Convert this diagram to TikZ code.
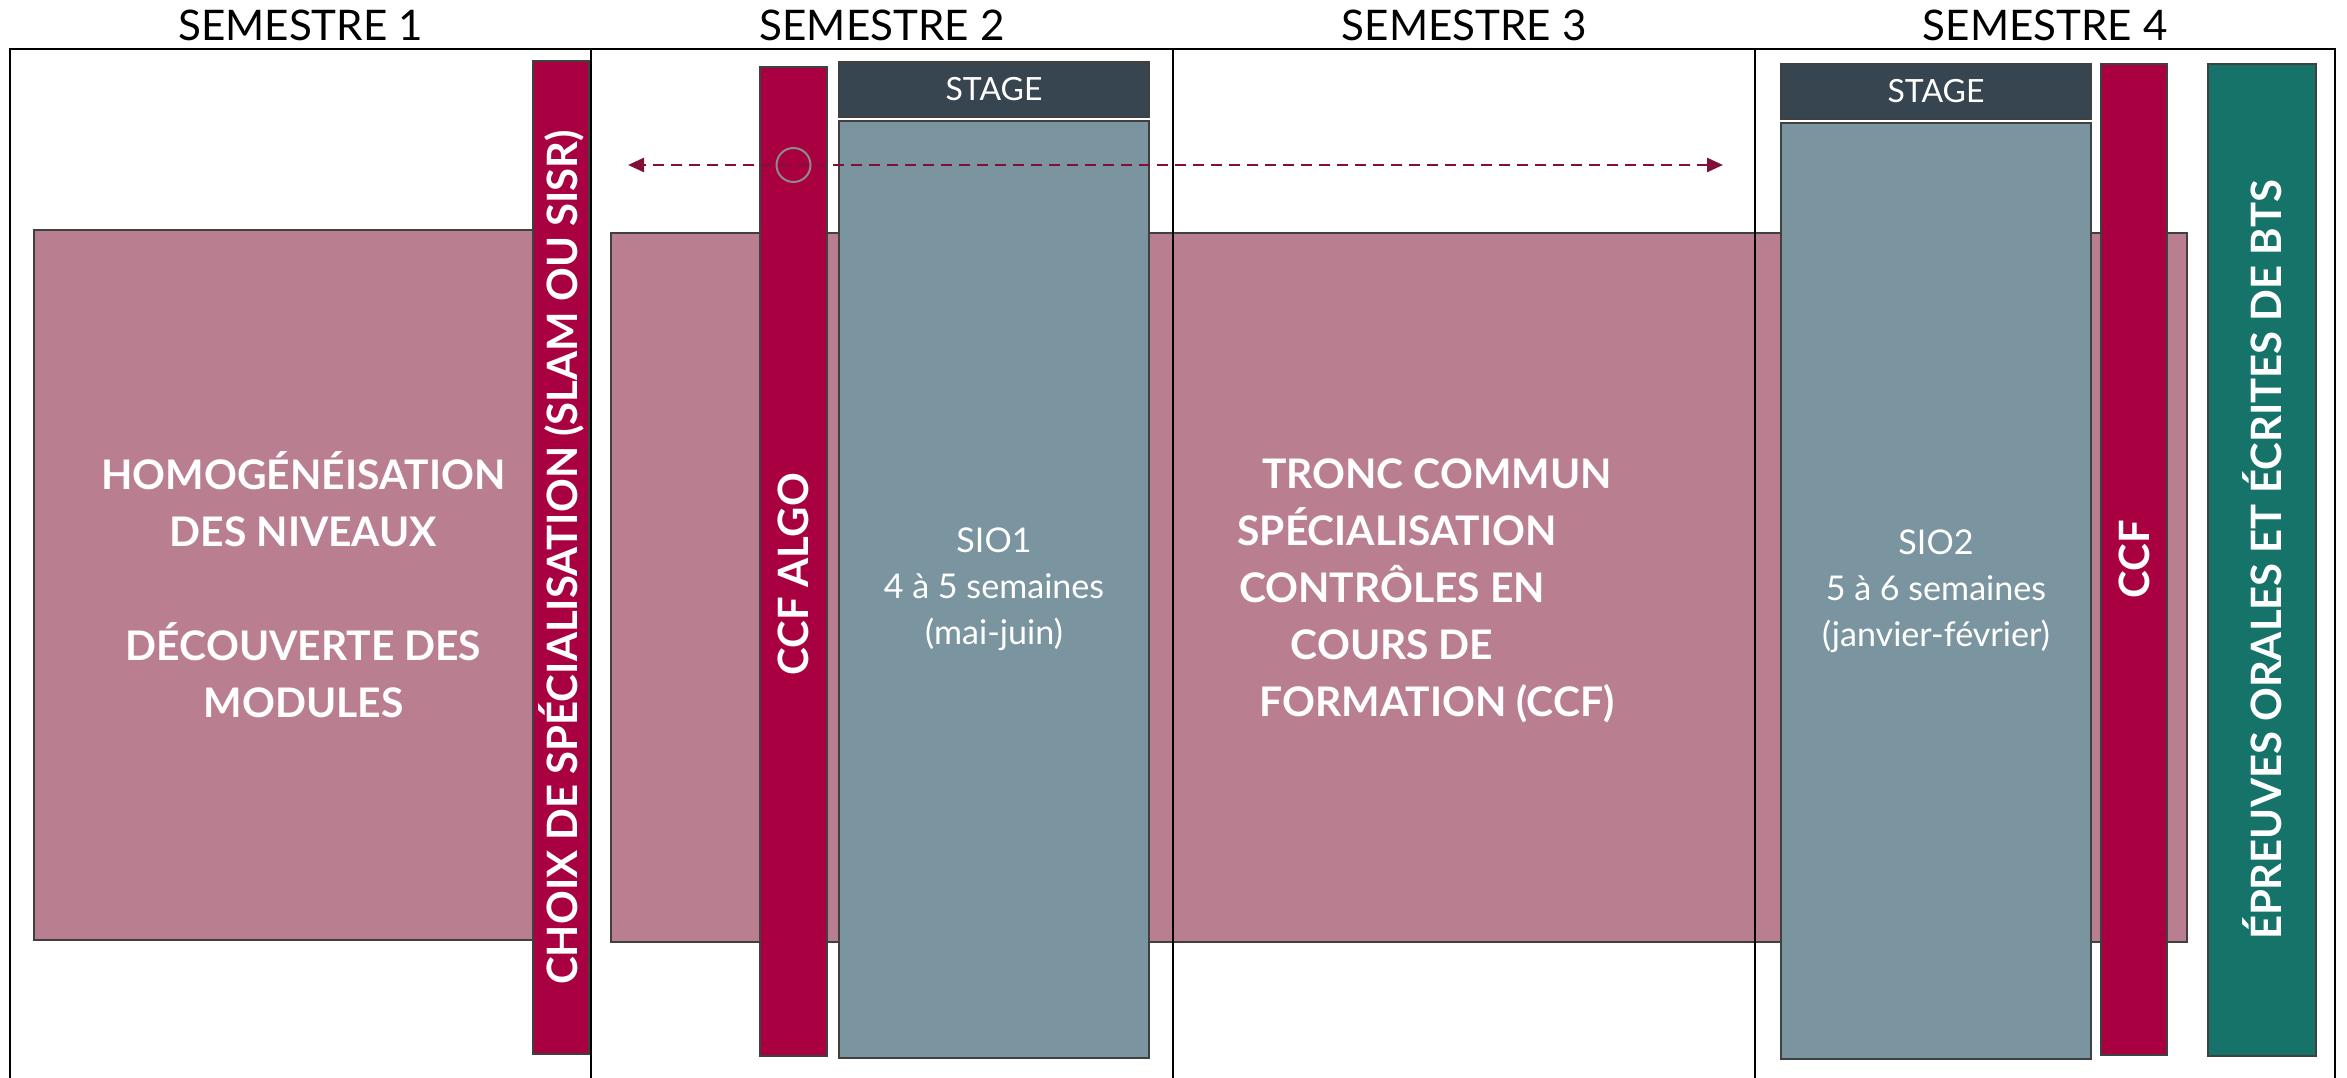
\documentclass[tikz,border=0pt]{standalone}
\usepackage{fontspec}
\setmainfont{Lato}
\usetikzlibrary{arrows.meta,positioning}
\definecolor{rosebox}{HTML}{BA7E91}
\definecolor{crimsonbar}{HTML}{A90042}
\definecolor{stagehead}{HTML}{36454F}
\definecolor{stagebody}{HTML}{7A95A0}
\definecolor{tealbar}{HTML}{15736A}
\definecolor{edgegray}{HTML}{404040}
\definecolor{arrowred}{HTML}{801038}

\begin{document}
\begin{tikzpicture}[x=1mm, y=-1mm,
    box/.style 2 args={draw=edgegray, line width=0.2mm, inner sep=0pt, minimum width=#1mm, minimum height=#2mm},
    pinkbox/.style={fill=rosebox},
    redbar/.style={fill=crimsonbar},
    headbox/.style={fill=stagehead, text=white, font=\fontsize{9.1}{11}\selectfont},
    bodybox/.style={fill=stagebody},
    tealbox/.style={fill=tealbar},
    semtitle/.style={anchor=base, font=\fontsize{12}{14}\selectfont},
    bigtext/.style={text=white, align=center, font=\bfseries\fontsize{11.6}{16.2}\selectfont},
    smalltext/.style={text=white, align=center, font=\fontsize{9.7}{13.1}\selectfont},
    vertext/.style={text=white, rotate=90, font=\bfseries\fontsize{11.9}{14}\selectfont},
    frameline/.style={line width=0.2mm},
    dashline/.style={draw=arrowred, line width=0.25mm, dash pattern=on 1.1mm off 0.7mm,
      arrows={Triangle[length=1.6mm,width=1.4mm]-Triangle[length=1.6mm,width=1.4mm]}}]
  \useasboundingbox (0,0) rectangle (234.7,107.8);
  \fill[white] (0,0) rectangle (234.7,107.8);
  \node[semtitle] (sem1) at (30.05,4.1) {SEMESTRE 1};
  \node[semtitle] (sem2) at (88.2,4.1) {SEMESTRE 2};
  \node[semtitle] (sem3) at (146.4,4.1) {SEMESTRE 3};
  \node[semtitle] (sem4) at (204.5,4.1) {SEMESTRE 4};
  \node[box={50.1}{71}, pinkbox, anchor=north west] (homog) at (3.3,22.9) {};
  \node[box={157.6}{70.9}, pinkbox, anchor=north west] (tronc) at (61.0,23.2) {};
  \draw[frameline] (1,107.8) |- (233.5,4.9) -- (233.5,107.8);
  \draw[frameline] (59.1,4.9) -- (59.1,107.8) (117.3,4.9) -- (117.3,107.8) (175.5,4.9) -- (175.5,107.8);
  \node[box={5.6}{99.3}, redbar, anchor=north west] (choix) at (53.2,6.0) {};
  \node[box={6.7}{98.9}, redbar, anchor=north west] (ccfalgo) at (75.9,6.6) {};
  \node[box={31.0}{5.5}, headbox, anchor=north west] (stage1) at (83.8,6.1) {STAGE};
  \node[box={31.0}{93.7}, bodybox, below=0.2mm of stage1] (sio1) {};
  \node[box={31.0}{5.5}, headbox, anchor=north west] (stage2) at (178.0,6.3) {STAGE};
  \node[box={31.0}{93.6}, bodybox, below=0.2mm of stage2] (sio2) {};
  \node[box={6.6}{99.1}, redbar, anchor=north west] (ccf) at (210.0,6.3) {};
  \node[box={10.8}{99.2}, tealbox, anchor=north west] (epreuves) at (220.7,6.3) {};
  \node[bigtext] (homogtxt) at ([xshift=1.9mm]homog.center) {HOMOGÉNÉISATION\\DES NIVEAUX\\[16.2pt]DÉCOUVERTE DES\\MODULES};
  \node[bigtext] (tronctxt) at (143.7,59.1) {TRONC COMMUN\\SPÉCIALISATION\hspace*{8mm}\mbox{}\\CONTRÔLES EN\hspace*{9mm}\mbox{}\\COURS DE\hspace*{9mm}\mbox{}\\FORMATION (CCF)};
  \node[smalltext] (sio1txt) at (sio1.center) {SIO1\\4 à 5 semaines\\(mai-juin)};
  \node[smalltext] (sio2txt) at (sio2.center) {SIO2\\5 à 6 semaines\\(janvier-février)};
  \node[vertext] (choixtxt) at (choix.center) {CHOIX DE SPÉCIALISATION (SLAM OU SISR)};
  \node[vertext] (algotxt) at ([yshift=-1.3mm]ccfalgo.center) {CCF ALGO};
  \node[vertext] (ccftxt) at (ccf.center) {CCF};
  \node[vertext] (epreuvestxt) at (epreuves.center) {ÉPREUVES ORALES ET ÉCRITES DE BTS};
  \coordinate (dashL) at (62.8,16.5);
  \coordinate (dashR) at (172.3,16.5);
  \draw[dashline] (dashR) -- (dashL);
  \node[draw=gray!90, line width=0.2mm, circle, minimum size=3.4mm, inner sep=0pt] (algoring) at (ccfalgo.center |- dashL) {};
\end{tikzpicture}
\end{document}
